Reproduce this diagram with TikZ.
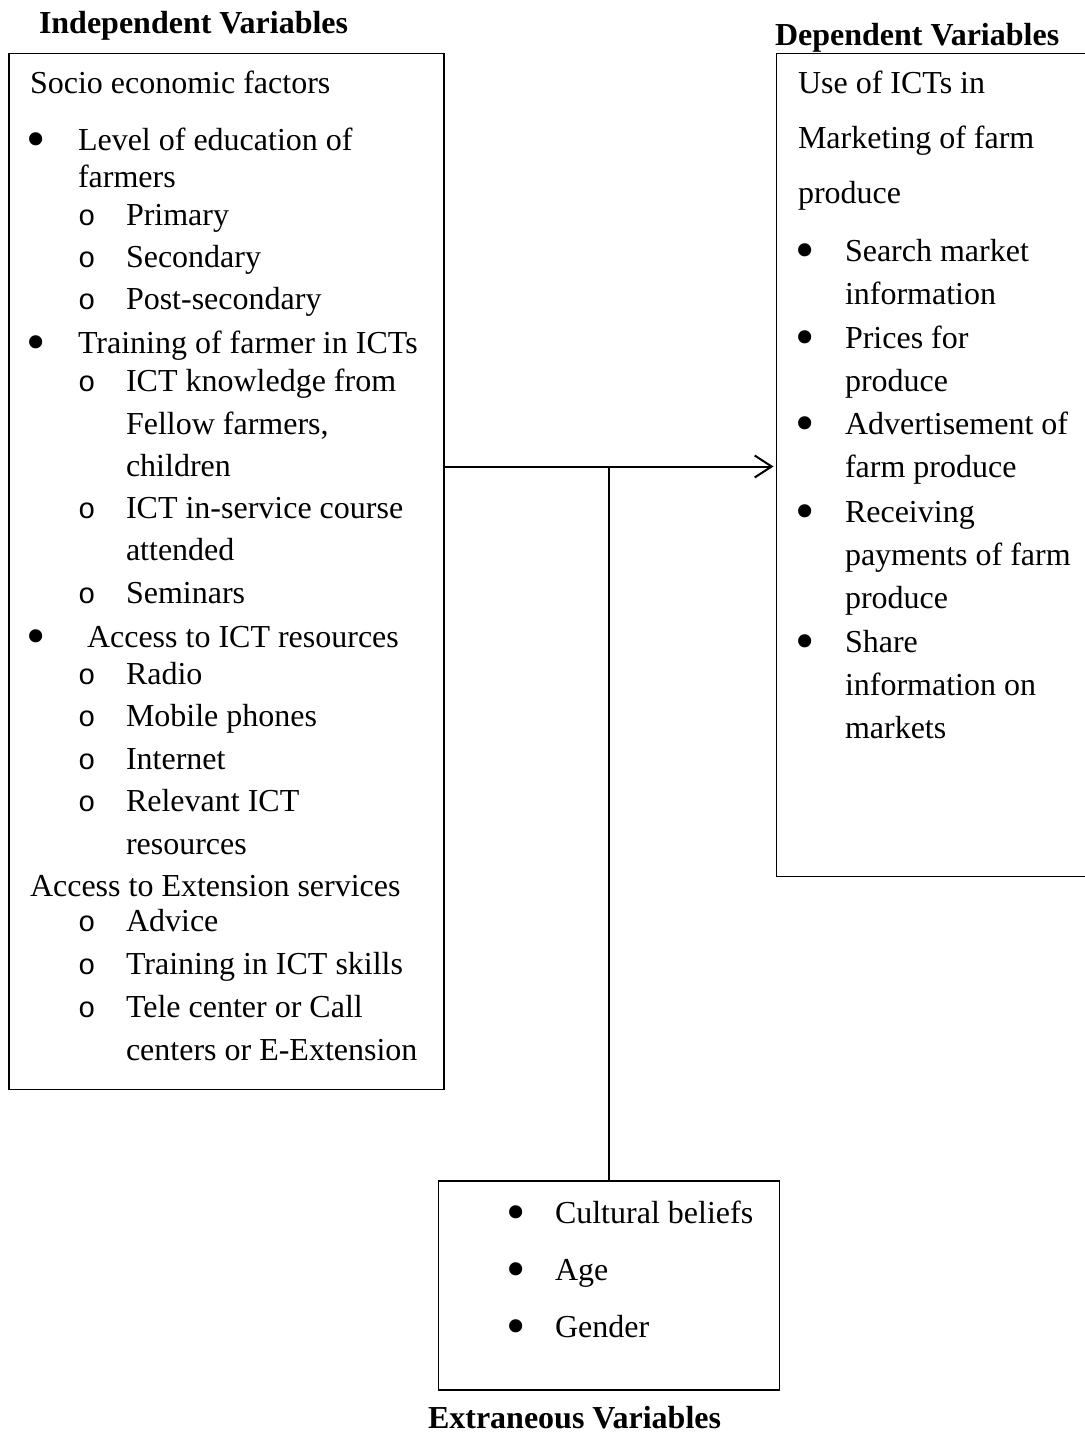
\documentclass[tikz,border=0pt]{standalone}
\usepackage{fontspec}
\setmainfont{Liberation Serif}
\newfontfamily\monofam{Liberation Mono}
\usetikzlibrary{arrows.meta}
\tikzset{
  txt/.style={anchor=base west, inner sep=0pt, outer sep=0pt, font=\fontsize{32}{38}\selectfont},
  bul/.style={anchor=base west, inner sep=0pt, outer sep=0pt, font=\fontsize{55}{60}\selectfont, yshift=-7pt},
  osub/.style={anchor=base west, inner sep=0pt, outer sep=0pt, font=\monofam\fontsize{29}{34}\selectfont},
  ttl/.style={anchor=base west, inner sep=0pt, outer sep=0pt, font=\fontsize{32}{38}\selectfont\bfseries},
  box/.style={draw, line width=1.7pt, anchor=north west, inner sep=0pt, outer sep=0pt},
  conn/.style={line width=2pt},
}
\begin{document}
\begin{tikzpicture}[x=1pt,y=-1pt]
\useasboundingbox (0,0) rectangle (1084,1434);
% boxes
\node[box, minimum width=435pt, minimum height=1036pt] (lbox) at (9,53.5) {};
\node[box, minimum width=320pt, minimum height=823pt] (rbox) at (776.5,53.5) {};
\node[box, minimum width=341pt, minimum height=209pt] (ebox) at (438.5,1181) {};
% titles
\node[ttl] (tind) at (39,34) {Independent Variables};
\node[ttl] (tdep) at (775,46) {Dependent Variables};
\node[ttl] (text) at (428,1428) {Extraneous Variables};
% left box text
\node[txt] (l1) at (30,94) {Socio economic factors};
\node[bul] (b1) at (27,151) {•};
\node[txt] (l2) at (78,151) {Level of education of};
\node[txt] (l3) at (78,188) {farmers};
\node[osub] (o1) at (78,225) {o};
\node[txt] (l4) at (126,225) {Primary};
\node[osub] (o2) at (78,267) {o};
\node[txt] (l5) at (126,267) {Secondary};
\node[osub] (o3) at (78,309) {o};
\node[txt] (l6) at (126,309) {Post-secondary};
\node[bul] (b2) at (27,353) {•};
\node[txt] (l7) at (78,353) {Training of farmer in ICTs};
\node[osub] (o4) at (78,391) {o};
\node[txt] (l8) at (126,391) {ICT knowledge from};
\node[txt] (l9) at (126,434) {Fellow farmers,};
\node[txt] (l10) at (126,476) {children};
\node[osub] (o5) at (78,518) {o};
\node[txt] (l11) at (126,518) {ICT in-service course};
\node[txt] (l12) at (126,560) {attended};
\node[osub] (o6) at (78,603) {o};
\node[txt] (l13) at (126,603) {Seminars};
\node[bul] (b3) at (27,647) {•};
\node[txt] (l14) at (87,647) {Access to ICT resources};
\node[osub] (o7) at (78,684) {o};
\node[txt] (l15) at (126,684) {Radio};
\node[osub] (o8) at (78,726) {o};
\node[txt] (l16) at (126,726) {Mobile phones};
\node[osub] (o9) at (78,769) {o};
\node[txt] (l17) at (126,769) {Internet};
\node[osub] (o10) at (78,811) {o};
\node[txt] (l18) at (126,811) {Relevant ICT};
\node[txt] (l19) at (126,854) {resources};
\node[txt] (l20) at (30,896) {Access to Extension services};
\node[osub] (o11) at (78,931) {o};
\node[txt] (l21) at (126,931) {Advice};
\node[osub] (o12) at (78,974) {o};
\node[txt] (l22) at (126,974) {Training in ICT skills};
\node[osub] (o13) at (78,1017) {o};
\node[txt] (l23) at (126,1017) {Tele center or Call};
\node[txt] (l24) at (126,1060) {centers or E-Extension};
% right box text
\node[txt] (r1) at (798,94) {Use of ICTs in};
\node[txt] (r2) at (798,149) {Marketing of farm};
\node[txt] (r3) at (798,204) {produce};
\node[bul] (rb1) at (795,261) {•};
\node[txt] (r4) at (845,261) {Search market};
\node[txt] (r5) at (845,304) {information};
\node[bul] (rb2) at (795,348) {•};
\node[txt] (r6) at (845,348) {Prices for};
\node[txt] (r7) at (845,391) {produce};
\node[bul] (rb3) at (795,434) {•};
\node[txt] (r8) at (845,434) {Advertisement of};
\node[txt] (r9) at (845,477) {farm produce};
\node[bul] (rb4) at (795,522) {•};
\node[txt] (r10) at (845,522) {Receiving};
\node[txt] (r11) at (845,565) {payments of farm};
\node[txt] (r12) at (845,608) {produce};
\node[bul] (rb5) at (795,652) {•};
\node[txt] (r13) at (845,652) {Share};
\node[txt] (r14) at (845,695) {information on};
\node[txt] (r15) at (845,738) {markets};
% bottom box text
\node[bul] (eb1) at (506,1223) {•};
\node[txt] (e1) at (555,1223) {Cultural beliefs};
\node[bul] (eb2) at (506,1280) {•};
\node[txt] (e2) at (555,1280) {Age};
\node[bul] (eb3) at (506,1337) {•};
\node[txt] (e3) at (555,1337) {Gender};
% connectors
\coordinate (j) at (ebox.north |- 0,466.5);
\draw[conn, -{Straight Barb[length=17pt,width=22pt,line width=2pt]}, shorten >=3pt] (lbox.east |- j) -- (rbox.west |- j);
\draw[conn] (j) -- (ebox.north);
\end{tikzpicture}
\end{document}
